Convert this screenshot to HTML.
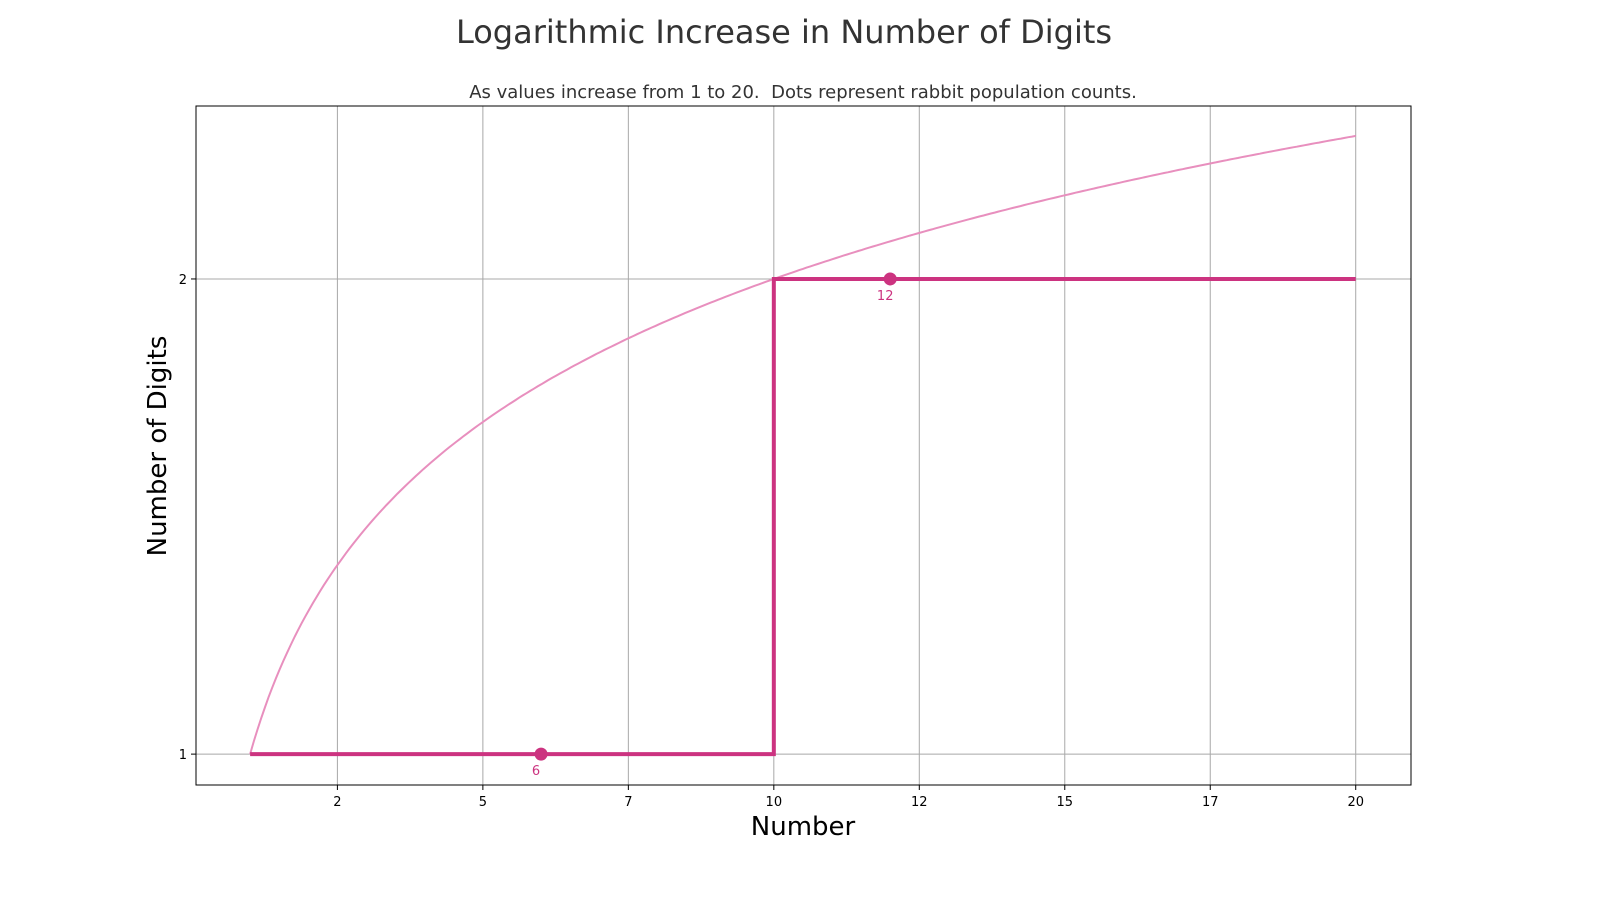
<!DOCTYPE html>
<html><head><meta charset="utf-8"><style>
body{margin:0;background:#fff;font-family:"Liberation Sans","DejaVu Sans",sans-serif}
</style></head><body>
<svg id="chart" width="1600" height="900" xmlns="http://www.w3.org/2000/svg">
<text x="784" y="43" text-anchor="middle" font-size="32" fill="#333" font-family="DejaVu Sans, sans-serif">Logarithmic Increase in Number of Digits</text>
<text x="803" y="98" text-anchor="middle" font-size="18" fill="#333" font-family="DejaVu Sans, sans-serif" style="white-space:pre">As values increase from 1 to 20.&#160; Dots represent rabbit population counts.</text>
<g id="grid"></g>
<g id="marks"></g>
<rect x="196" y="106" width="1215" height="679" fill="none" stroke="#000" stroke-width="1"/>
<text x="803" y="835" text-anchor="middle" font-size="26" fill="#000" font-family="DejaVu Sans, sans-serif">Number</text>
<text transform="translate(166,446) rotate(-90)" text-anchor="middle" font-size="26" fill="#000" font-family="DejaVu Sans, sans-serif">Number of Digits</text>
</svg>
<script>
const xTicks=[2.5,5,7.5,10,12.5,15,17.5,20];
const xTickLabels=["2","5","7","10","12","15","17","20"];
const yTicks=[1,2];
const stepX=[1,10,10,20];
const stepY=[1,1,2,2];
const dotX=[6,12];
const dotY=[1,2];
const dotLabels=["6","12"];
const curveStart=1, curveEnd=20;

const NS="http://www.w3.org/2000/svg";
const X0=0.07,X1=20.95,Y0=0.935,Y1=2.364;
const L=196,R=1411,T=106,B=785;
function sx(v){return L+(v-X0)/(X1-X0)*(R-L);}
function sy(v){return B-(v-Y0)/(Y1-Y0)*(B-T);}
function mk(tag,attrs,parent){const e=document.createElementNS(NS,tag);for(const k in attrs)e.setAttribute(k,attrs[k]);parent.appendChild(e);return e;}
const grid=document.getElementById('grid'),marks=document.getElementById('marks');
xTicks.forEach((t,i)=>{
  const l=mk('line',{x1:sx(t),x2:sx(t),y1:T,y2:B,stroke:'#a8a8a8','stroke-width':1},grid);
  
  
  const tk=mk('line',{x1:sx(t),x2:sx(t),y1:B,y2:B+5,stroke:'#000'},grid);
  
  
  const tx=mk('text',{x:sx(t),y:B+21,'text-anchor':'middle','font-size':13,'font-family':'DejaVu Sans, sans-serif'},grid);
  tx.textContent=xTickLabels[i];
  
  
});
yTicks.forEach(t=>{
  const l=mk('line',{x1:L,x2:R,y1:sy(t),y2:sy(t),stroke:'#a8a8a8','stroke-width':1},grid);
  
  
  const tk=mk('line',{x1:L-5,x2:L,y1:sy(t),y2:sy(t),stroke:'#000'},grid);
  
  
  const tx=mk('text',{x:L-9,y:sy(t)+5,'text-anchor':'end','font-size':13,'font-family':'DejaVu Sans, sans-serif'},grid);
  tx.textContent=String(t);
  
  
});
let d='';
for(let i=0;i<=300;i++){const x=curveStart+(curveEnd-curveStart)*i/300;d+=(i?'L':'M')+sx(x).toFixed(1)+','+sy(Math.log10(x)+1).toFixed(1);}
const c=mk('path',{d:d,fill:'none',stroke:'#e88fbe','stroke-width':2},marks);


const sp=mk('polyline',{points:stepX.map((x,i)=>sx(x)+','+sy(stepY[i])).join(' '),fill:'none',stroke:'#cc3380','stroke-width':4},marks);


dotX.forEach((x,i)=>{
  const ci=mk('circle',{cx:sx(x),cy:sy(dotY[i]),r:6.5,fill:'#cc3380'},marks);
  
  
  const t=mk('text',{x:sx(x)-5,y:sy(dotY[i])+21,'text-anchor':'middle','font-size':13,fill:'#cc3380','font-family':'DejaVu Sans, sans-serif'},marks);
  t.textContent=dotLabels[i];
  
  
});
</script>
</body></html>
